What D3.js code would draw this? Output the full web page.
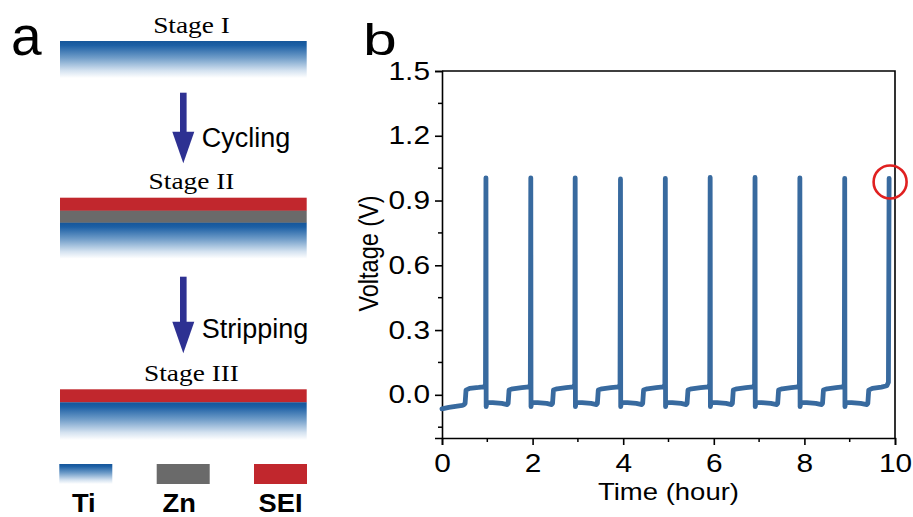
<!DOCTYPE html>
<html><head><meta charset="utf-8">
<script src="https://cdn.jsdelivr.net/npm/d3@7"></script>
<style>body{margin:0;background:#fff}svg{display:block}</style>
</head><body>
<svg id="c" width="913" height="517"></svg>
<script>
// ---------- data ----------
const timeHours = [
 0.00,0.15,0.30,0.45,0.49,0.51,0.53,0.61,0.81,0.93,0.96,0.97,
 0.975,0.99,1.12,1.32,1.44,1.46,1.48,1.56,1.76,1.92,1.95,1.96,
 1.965,1.98,2.11,2.31,2.42,2.44,2.46,2.54,2.74,2.90,2.93,2.94,
 2.945,2.96,3.09,3.29,3.41,3.43,3.45,3.53,3.73,3.90,3.93,3.94,
 3.945,3.96,4.09,4.29,4.41,4.43,4.45,4.53,4.73,4.89,4.92,4.93,
 4.935,4.95,5.08,5.28,5.39,5.41,5.43,5.51,5.71,5.88,5.91,5.92,
 5.925,5.94,6.07,6.27,6.39,6.41,6.43,6.51,6.71,6.87,6.90,6.91,
 6.915,6.93,7.06,7.26,7.39,7.41,7.43,7.51,7.71,7.86,7.89,7.90,
 7.905,7.92,8.05,8.25,8.38,8.40,8.42,8.50,8.70,8.85,8.88,8.89,
 8.895,8.91,9.04,9.24,9.38,9.40,9.42,9.50,9.70,9.82,9.855,9.87
];
const voltageV = [
 -0.065,-0.058,-0.053,-0.049,-0.045,-0.040,0.022,0.030,0.034,0.037,0.048,1.005,
 -0.055,-0.035,-0.036,-0.040,-0.045,-0.040,0.022,0.028,0.033,0.037,0.048,1.005,
 -0.055,-0.035,-0.036,-0.040,-0.045,-0.040,0.022,0.028,0.033,0.037,0.048,1.005,
 -0.055,-0.035,-0.036,-0.040,-0.045,-0.040,0.022,0.028,0.033,0.037,0.048,1.000,
 -0.055,-0.035,-0.036,-0.040,-0.045,-0.040,0.022,0.028,0.033,0.037,0.048,1.003,
 -0.055,-0.035,-0.036,-0.040,-0.045,-0.040,0.022,0.028,0.033,0.037,0.048,1.007,
 -0.055,-0.035,-0.036,-0.040,-0.045,-0.040,0.022,0.028,0.033,0.037,0.048,1.007,
 -0.055,-0.035,-0.036,-0.040,-0.045,-0.040,0.022,0.028,0.033,0.037,0.048,1.005,
 -0.055,-0.035,-0.036,-0.040,-0.045,-0.040,0.022,0.028,0.033,0.037,0.048,1.003,
 -0.055,-0.035,-0.036,-0.040,-0.045,-0.040,0.022,0.030,0.036,0.042,0.058,1.003
];
const yTickValues = [0.0,0.3,0.6,0.9,1.2,1.5];
const yTickLabels = ["0.0","0.3","0.6","0.9","1.2","1.5"];
const yMinorTicks = [-0.15,0.15,0.45,0.75,1.05,1.35];
const xTickValues = [0,2,4,6,8,10];
const xTickLabels = ["0","2","4","6","8","10"];
const xMinorTicks = [1,3,5,7,9];
const stageLabels = ["Stage I","Stage II","Stage III"];
const processLabels = ["Cycling","Stripping"];
const legendLabels = ["Ti","Zn","SEI"];
const highlightPoint = {t: 9.87, v: 1.0};

// ---------- setup ----------
const svg = d3.select("#c");
const SANS = "Arial, 'Liberation Sans', sans-serif";
const SERIF = "'Times New Roman', 'Liberation Serif', serif";
const ZN_GRAY = "#6a6a6a", SEI_RED = "#c1272d", ARROW = "#2e3192";

const defs = svg.append("defs");
const grad = defs.append("linearGradient").attr("id","tiGrad").attr("x1",0).attr("y1",0).attr("x2",0).attr("y2",1);
[[0,"#15569a"],[0.12,"#1d60a5"],[0.45,"#6f9cc8"],[0.8,"#d4e2f0"],[1,"#ffffff"]].forEach(s=>
  grad.append("stop").attr("offset",s[0]).attr("stop-color",s[1]));

function txt(x,y,s,size,opts={}){
  return svg.append("text")
    .attr("transform",`translate(${x},${y}) scale(${opts.sx||1},1)${opts.rot?` rotate(${opts.rot})`:""}`)
    .attr("font-family",opts.family||SANS).attr("font-size",size)
    .attr("font-weight",opts.weight||"normal")
    .attr("text-anchor",opts.anchor||"start").attr("fill","#000").text(s);
}

// ---------- panel a ----------
txt(11,55,"a",55);
const barX0 = 60, barX1 = 306.7;
txt(191.5,33.3,stageLabels[0],24,{family:SERIF,anchor:"middle",sx:1.14});
svg.append("rect").attr("x",barX0).attr("y",41).attr("width",barX1-barX0).attr("height",37).attr("fill","url(#tiGrad)");
function arrow(cx,y0,yHead,yTip){
  svg.append("rect").attr("x",cx-3.3).attr("y",y0).attr("width",6.6).attr("height",yHead-y0+2).attr("fill",ARROW);
  svg.append("path").attr("d",`M${cx-11},${yHead} L${cx+11},${yHead} L${cx},${yTip} Z`).attr("fill",ARROW);
}
arrow(183.3,92.7,131.7,163.3);
txt(201.7,147,processLabels[0],27);
txt(191.5,189,stageLabels[1],24,{family:SERIF,anchor:"middle",sx:1.14});
svg.append("rect").attr("x",barX0).attr("y",197.7).attr("width",barX1-barX0).attr("height",13.2).attr("fill",SEI_RED);
svg.append("rect").attr("x",barX0).attr("y",210.7).attr("width",barX1-barX0).attr("height",12.2).attr("fill",ZN_GRAY);
svg.append("rect").attr("x",barX0).attr("y",222.7).attr("width",barX1-barX0).attr("height",36).attr("fill","url(#tiGrad)");
arrow(183.3,276.7,321.7,353.3);
txt(201.7,338,processLabels[1],27);
txt(191.5,381,stageLabels[2],24,{family:SERIF,anchor:"middle",sx:1.14});
svg.append("rect").attr("x",barX0).attr("y",389.3).attr("width",barX1-barX0).attr("height",13.2).attr("fill",SEI_RED);
svg.append("rect").attr("x",barX0).attr("y",402.3).attr("width",barX1-barX0).attr("height",37.7).attr("fill","url(#tiGrad)");
const legX = [59.3,156.7,254];
const legFill = ["url(#tiGrad)",ZN_GRAY,SEI_RED];
legendLabels.forEach((l,i)=>{
  svg.append("rect").attr("x",legX[i]).attr("y",464).attr("width",53).attr("height",20).attr("fill",legFill[i]);
  txt(legX[i]+26.5 - (i===1?4:0) - (i===0?2:0),511.5,l,26,{weight:"bold",anchor:"middle",sx:1.05});
});

// ---------- panel b ----------
const L=442,R=895,T=71,B=438;
const x = d3.scaleLinear().domain([0,10]).range([L,R]);
const y = d3.scaleLinear().domain([-0.2,1.5]).range([B,T]);
txt(363,55,"b",45,{sx:1.35});

svg.append("path").attr("d",`M${L},${T} H${R} V${B}`).attr("fill","none").attr("stroke","#000").attr("stroke-width",1.6);

const yAxis = svg.append("g").attr("transform",`translate(${L},0)`)
  .call(d3.axisLeft(y).tickValues(yTickValues).tickSize(7).tickFormat((d,i)=>yTickLabels[i]));
const xAxis = svg.append("g").attr("transform",`translate(0,${B})`)
  .call(d3.axisBottom(x).tickValues(xTickValues).tickSize(7).tickFormat((d,i)=>xTickLabels[i]));
[yAxis,xAxis].forEach(a=>{
  a.select(".domain").attr("stroke","#000").attr("stroke-width",1.6);
  a.selectAll(".tick line").attr("stroke","#000").attr("stroke-width",1.6);
  a.selectAll("text").attr("font-family",SANS).attr("font-size",25.5).attr("fill","#000");
});
yAxis.selectAll(".tick text").attr("x",null).attr("transform","translate(-12,0) scale(1.17,1)");
xAxis.selectAll(".tick text").attr("y",null).attr("dy",null).attr("transform","translate(0,33.8) scale(1.17,1)");
svg.append("g").selectAll("line").data(yMinorTicks).join("line")
  .attr("x1",L-4).attr("x2",L).attr("y1",d=>y(d)).attr("y2",d=>y(d)).attr("stroke","#000").attr("stroke-width",1.5);
svg.append("g").selectAll("line").data(xMinorTicks).join("line")
  .attr("x1",d=>x(d)).attr("x2",d=>x(d)).attr("y1",B).attr("y2",B+4).attr("stroke","#000").attr("stroke-width",1.5);

txt(378,253.5,"Voltage (V)",23.5,{anchor:"middle",sx:1.17,rot:-90});
txt(668.5,499.5,"Time (hour)",23.5,{anchor:"middle",sx:1.17});

const pts = timeHours.map((t,i)=>[t,voltageV[i]]);
svg.append("path").datum(pts)
  .attr("d",d3.line().x(d=>x(d[0])).y(d=>y(d[1])))
  .attr("fill","none").attr("stroke","#386a9f").attr("stroke-width",4.8)
  .attr("stroke-linejoin","round").attr("stroke-linecap","round");

svg.append("circle").attr("cx",x(highlightPoint.t)+1).attr("cy",y(highlightPoint.v)+3)
  .attr("r",16.5).attr("fill","none").attr("stroke","#e02020").attr("stroke-width",2.6);
</script>
</body></html>
